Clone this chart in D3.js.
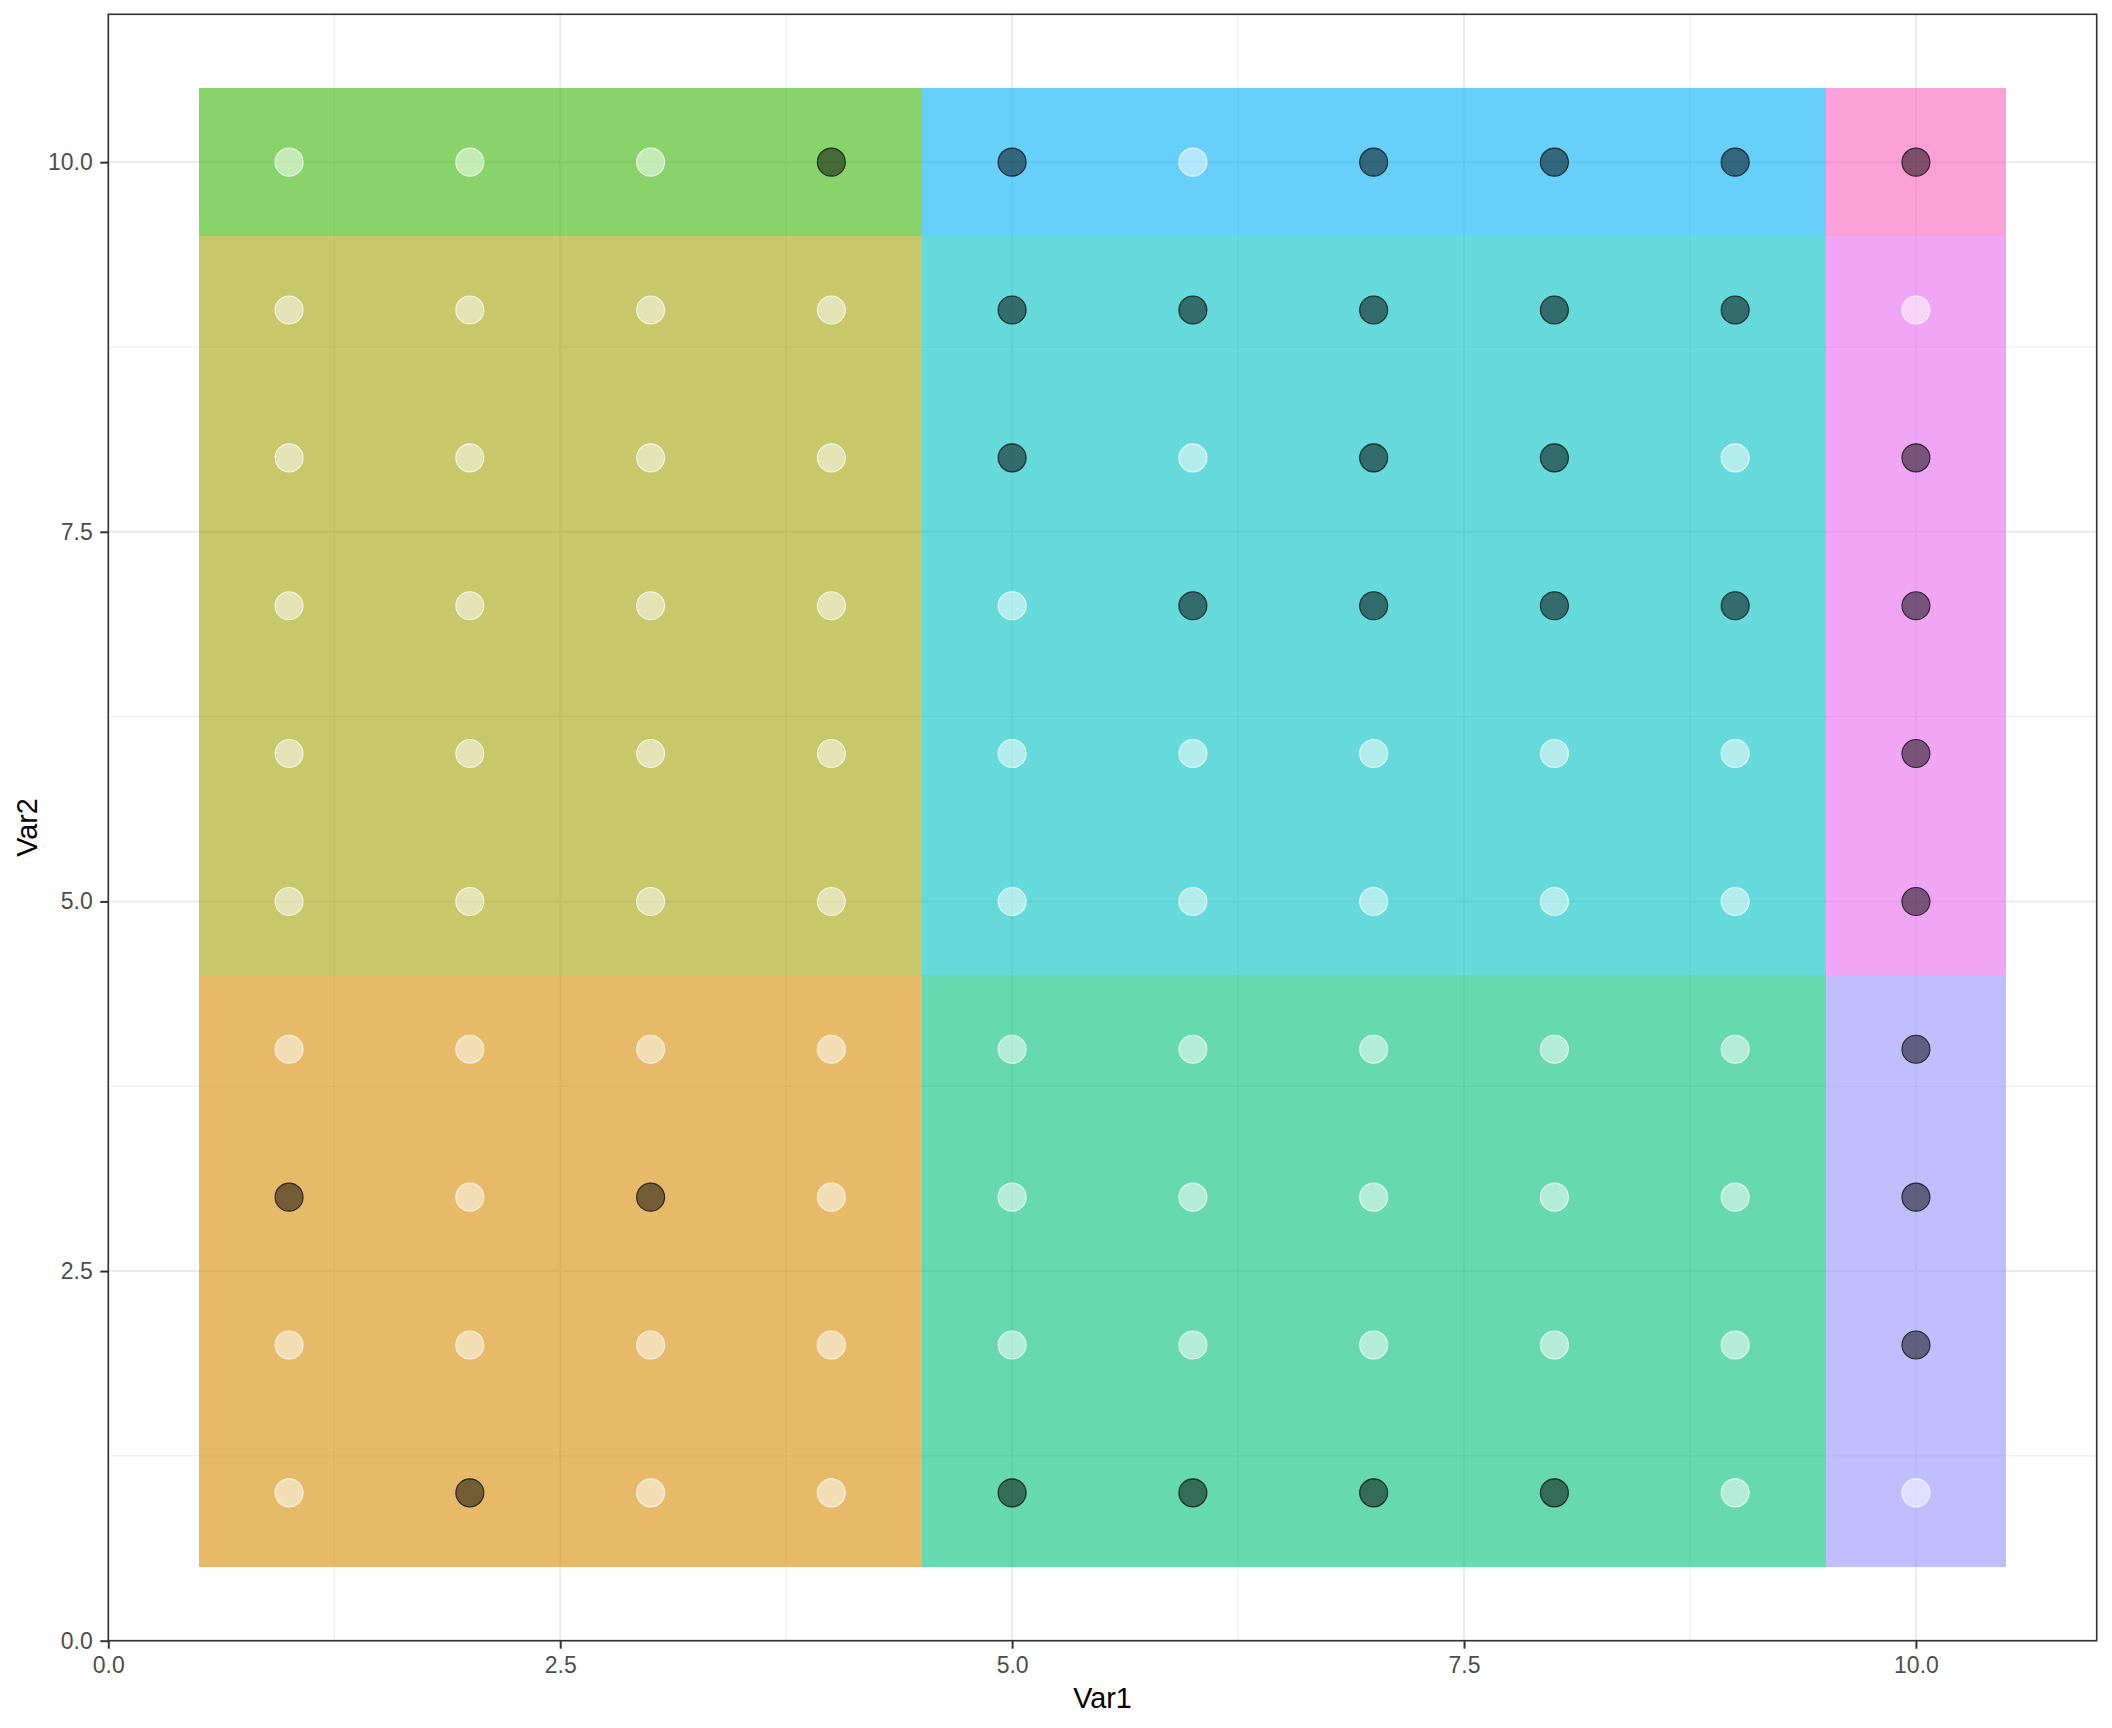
<!DOCTYPE html>
<html>
<head>
<meta charset="utf-8">
<script src="https://cdn.jsdelivr.net/npm/d3@7"></script>
<style>
  html, body { margin: 0; padding: 0; background: #ffffff; }
  svg { display: block; }
  text { font-family: "Liberation Sans", Arial, sans-serif; }
</style>
</head>
<body>
<div id="chart"></div>
<script>
// ---------------- data ----------------
const xValues = [1, 2, 3, 4, 5, 6, 7, 8, 9, 10];
const yValues = [1, 2, 3, 4, 5, 6, 7, 8, 9, 10];

// region boundaries for the coloured rectangles
const xBreaks = [0.5, 4.5, 9.5, 10.5];
const yBreaks = [0.5, 4.5, 9.5, 10.5];

// region colours: rows = y band (bottom, middle, top), cols = x band (left, middle, right)
const regionColors = [
  ["#D58C03", "#00C07B", "#9693FF"],
  ["#A3A207", "#00C0C3", "#E66BEE"],
  ["#39B707", "#00AFF7", "#FA62BE"]
];

// point classes: one string per y (from y = 10 down to y = 1), D = dark, L = light, x = 1..10
const pointRows = {
  10: "LLLDDLDDDD",
  9:  "LLLLDDDDDL",
  8:  "LLLLDLDDLD",
  7:  "LLLLLDDDDD",
  6:  "LLLLLLLLLD",
  5:  "LLLLLLLLLD",
  4:  "LLLLLLLLLD",
  3:  "DLDLLLLLLD",
  2:  "LLLLLLLLLD",
  1:  "LDLLDDDDLL"
};

const majorTicks = [0, 2.5, 5, 7.5, 10];
const minorTicks = [1.25, 3.75, 6.25, 8.75];
const xTitle = "Var1";
const yTitle = "Var2";

// ---------------- layout ----------------
const W = 2112, H = 1728;
const panel = { left: 108.3, right: 2096.7, top: 14.3, bottom: 1640.7 };

const x = d3.scaleLinear().domain([0, 11]).range([panel.left, panel.right]);
const y = d3.scaleLinear().domain([0, 11]).range([panel.bottom, panel.top]);

const svg = d3.select("#chart").append("svg")
  .attr("width", W).attr("height", H);

svg.append("rect").attr("width", W).attr("height", H).attr("fill", "#ffffff");

// grid
const grid = svg.append("g");
grid.selectAll(".vminor").data(minorTicks).join("line")
  .attr("x1", d => x(d)).attr("x2", d => x(d))
  .attr("y1", panel.top).attr("y2", panel.bottom)
  .attr("stroke", "#EBEBEB").attr("stroke-width", 1);
grid.selectAll(".hminor").data(minorTicks).join("line")
  .attr("y1", d => y(d)).attr("y2", d => y(d))
  .attr("x1", panel.left).attr("x2", panel.right)
  .attr("stroke", "#EBEBEB").attr("stroke-width", 1);
grid.selectAll(".vmajor").data(majorTicks).join("line")
  .attr("x1", d => x(d)).attr("x2", d => x(d))
  .attr("y1", panel.top).attr("y2", panel.bottom)
  .attr("stroke", "#EBEBEB").attr("stroke-width", 2);
grid.selectAll(".hmajor").data(majorTicks).join("line")
  .attr("y1", d => y(d)).attr("y2", d => y(d))
  .attr("x1", panel.left).attr("x2", panel.right)
  .attr("stroke", "#EBEBEB").attr("stroke-width", 2);

// regions
const regions = [];
for (let r = 0; r < 3; r++) {
  for (let c = 0; c < 3; c++) {
    regions.push({
      x0: xBreaks[c], x1: xBreaks[c + 1],
      y0: yBreaks[r], y1: yBreaks[r + 1],
      color: regionColors[r][c]
    });
  }
}
svg.append("g").selectAll("rect").data(regions).join("rect")
  .attr("x", d => x(d.x0))
  .attr("y", d => y(d.y1))
  .attr("width", d => x(d.x1) - x(d.x0))
  .attr("height", d => y(d.y0) - y(d.y1))
  .attr("fill", d => d.color)
  .attr("fill-opacity", 0.6)
  .attr("shape-rendering", "crispEdges");

// points
const points = [];
yValues.forEach(yv => {
  xValues.forEach((xv, i) => {
    points.push({ x: xv, y: yv, dark: pointRows[yv][i] === "D" });
  });
});
svg.append("g").selectAll("circle").data(points).join("circle")
  .attr("cx", d => x(d.x))
  .attr("cy", d => y(d.y))
  .attr("r", 14)
  .attr("fill", d => d.dark ? "#000000" : "#ffffff")
  .attr("fill-opacity", 0.5)
  .attr("stroke", d => d.dark ? "#000000" : "#ffffff")
  .attr("stroke-opacity", 0.75)
  .attr("stroke-width", 1.1);

// panel border
svg.append("rect")
  .attr("x", panel.left).attr("y", panel.top)
  .attr("width", panel.right - panel.left)
  .attr("height", panel.bottom - panel.top)
  .attr("fill", "none").attr("stroke", "#333333").attr("stroke-width", 1.6);

// axes
const fmt = d3.format(".1f");
const xAxis = svg.append("g")
  .attr("transform", `translate(0,${panel.bottom})`)
  .call(d3.axisBottom(x).tickValues(majorTicks).tickFormat(fmt)
        .tickSize(8).tickSizeOuter(0).tickPadding(8));
const yAxis = svg.append("g")
  .attr("transform", `translate(${panel.left},0)`)
  .call(d3.axisLeft(y).tickValues(majorTicks).tickFormat(fmt)
        .tickSize(8).tickSizeOuter(0).tickPadding(7.5));

[xAxis, yAxis].forEach(g => {
  g.select(".domain").remove();
  g.selectAll(".tick line").attr("stroke", "#333333").attr("stroke-width", 2);
  g.selectAll(".tick text")
    .attr("fill", "#4D4D4D")
    .style("font-size", "23px")
    .style("font-family", "'Liberation Sans', Arial, sans-serif");
});

// axis titles
svg.append("text")
  .attr("x", (panel.left + panel.right) / 2)
  .attr("y", 1708)
  .attr("text-anchor", "middle")
  .attr("fill", "#000000")
  .style("font-size", "28.75px")
  .text(xTitle);

svg.append("text")
  .attr("transform", `translate(37,${(panel.top + panel.bottom) / 2}) rotate(-90)`)
  .attr("text-anchor", "middle")
  .attr("fill", "#000000")
  .style("font-size", "28.75px")
  .text(yTitle);
</script>
</body>
</html>
